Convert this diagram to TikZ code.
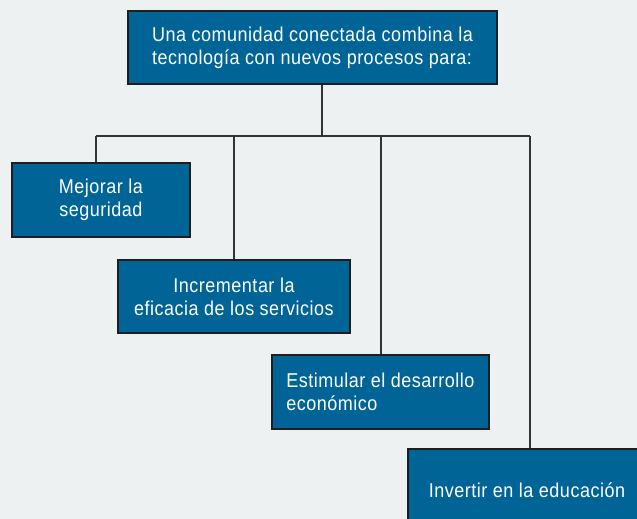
\documentclass[tikz,border=0pt]{standalone}
\usepackage{fontspec}
\setmainfont{Liberation Sans}[FakeStretch=0.9,LetterSpace=2.5]
\definecolor{bg}{HTML}{EEF1F2}
\definecolor{boxblue}{HTML}{006596}
\definecolor{edge}{HTML}{1E1E1E}
\definecolor{wire}{HTML}{333333}
\tikzset{
  box/.style={draw=edge, line width=1.5pt, fill=boxblue, text=white, inner sep=0pt,
    font=\fontsize{20}{23}\selectfont},
  wireline/.style={draw=wire, line width=1.4pt}
}
\begin{document}
\begin{tikzpicture}[x=1pt,y=-1pt]
\fill[bg] (0,0) rectangle (637,519);
\useasboundingbox (0,0) rectangle (637,519);
\node[box, minimum width=369pt, minimum height=73pt, align=left] (top) at (312.5,47.5)
  {Una comunidad conectada combina la\\tecnología con nuevos procesos para:};
\node[box, minimum width=178pt, minimum height=74pt, align=center] (b1) at (101,200)
  {Mejorar la\\seguridad};
\node[box, minimum width=232pt, minimum height=73pt, align=center] (b2) at (234,296.5)
  {Incrementar la\\eficacia de los servicios};
\node[box, minimum width=217pt, minimum height=74pt, align=left] (b3) at (380.5,392)
  {Estimular el desarrollo\\económico};
\node[box, minimum width=238pt, minimum height=82pt, align=center] (b4) at (527,490)
  {Invertir en la educación};
\coordinate (j) at (322,136);
\coordinate (j1) at (96,136);
\coordinate (j2) at (234,136);
\coordinate (j3) at (381,136);
\coordinate (j4) at (530,136);
\draw[wireline] (top.south -| j) -- (j);
\draw[wireline] (j1) -- (j4);
\draw[wireline] (j1) -- (j1 |- b1.north);
\draw[wireline] (j2) -- (j2 |- b2.north);
\draw[wireline] (j3) -- (j3 |- b3.north);
\draw[wireline] (j4) -- (j4 |- b4.north);
\end{tikzpicture}
\end{document}
